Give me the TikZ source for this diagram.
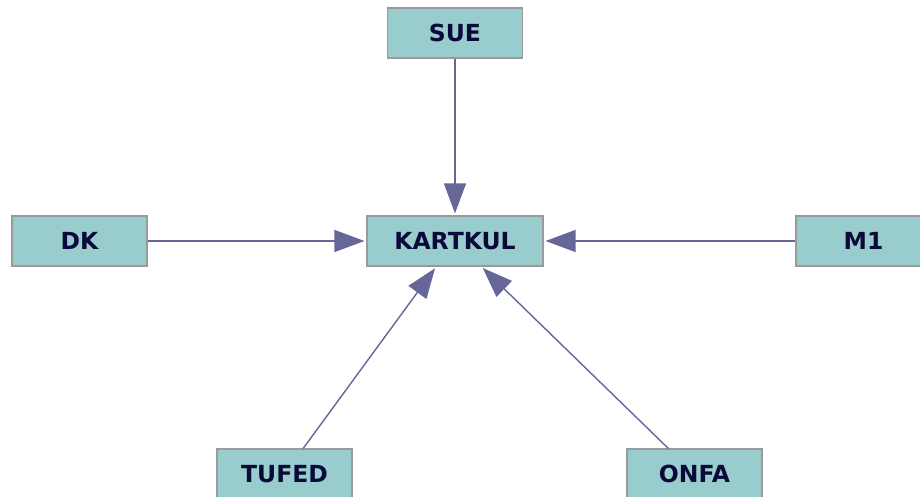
\documentclass[tikz,border=0pt]{standalone}
\usepackage{fontspec}
\setmainfont{DejaVu Sans}
\usetikzlibrary{arrows.meta,graphs}
\definecolor{boxfill}{HTML}{99CCCC}
\definecolor{boxline}{HTML}{9A9A9A}
\definecolor{linkcol}{HTML}{666699}
\definecolor{labelcol}{HTML}{0A0A3A}
\tikzset{
    >={Triangle[length=30pt,width=22pt]},
    shorten >=2pt,
    entity/.style={draw=boxline,line width=1.2pt,fill=boxfill,rectangle,
        minimum width=135pt,minimum height=50pt,inner sep=0pt,
        text=labelcol,font=\fontsize{23.5}{24}\selectfont\bfseries},
    link/.style={draw=linkcol,line width=1.4pt},
}

\begin{document}
\begin{tikzpicture}[x=1pt,y=-1pt]
            \useasboundingbox (0,0) rectangle (920,497);

            \node[entity] (sue) at (455,33) {SUE};
            \node[entity] (dk) at (79.5,241) {DK};
            \node[entity,minimum width=176pt] (kartkul) at (455,241) {KARTKUL};
            \node[entity] (m1) at (863.5,241) {M1};
            \node[entity] (tufed) at (284.5,474) {TUFED};
            \node[entity] (onfa) at (694.5,474) {ONFA};

            \graph[use existing nodes, edges={link}] {
                sue -> kartkul;
                dk -> kartkul;
                m1 -> kartkul;
                tufed -> kartkul;
                onfa -> kartkul;
            } ;
        \end{tikzpicture}
\end{document}
